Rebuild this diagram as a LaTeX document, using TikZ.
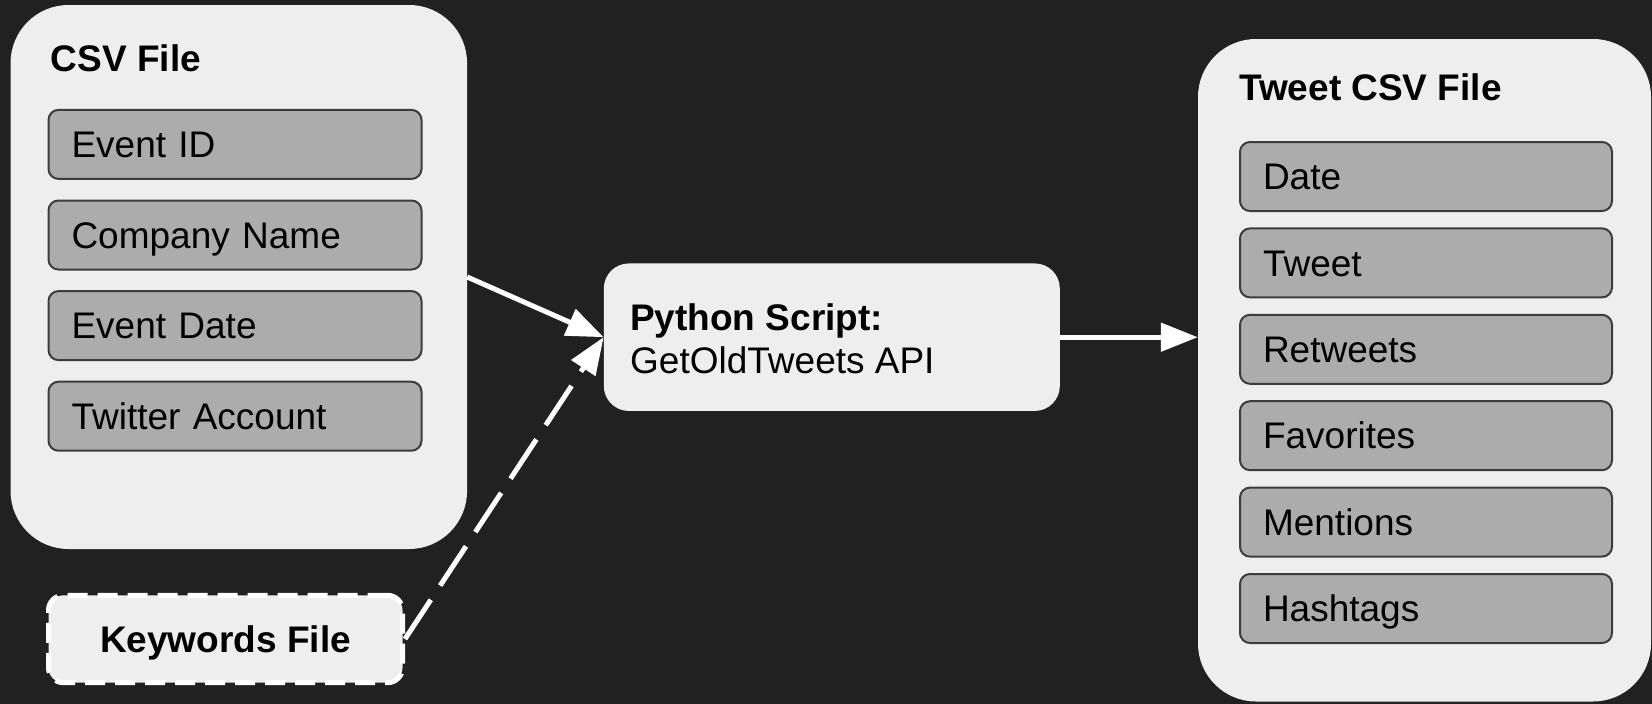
\documentclass[tikz,border=0pt]{standalone}
\usepackage{fontspec}
\setmainfont{Liberation Sans}
\usetikzlibrary{arrows.meta}
\definecolor{bgc}{HTML}{212121}
\definecolor{boxc}{HTML}{EEEEEE}
\definecolor{fieldc}{HTML}{ACACAC}
\definecolor{fieldline}{HTML}{3C3C3C}
\begin{document}
\begin{tikzpicture}[x=1pt,y=-1pt,
  every node/.style={font=\fontsize{37}{44}\selectfont, text=black},
  bigbox/.style={fill=boxc, draw=none, rounded corners=58pt, inner sep=0pt},
  fieldbox/.style={fill=fieldc, draw=fieldline, line width=2pt, rounded corners=10pt,
    minimum height=69pt, inner xsep=23pt, inner ysep=0pt, align=left,
    text height=26.5pt, text depth=0pt},
  csvfield/.style={fieldbox, minimum width=373pt, text width=327pt},
  twfield/.style={fieldbox, minimum width=372pt, text width=326pt},
  boxtitle/.style={anchor=base west, inner sep=0pt, font=\fontsize{37}{44}\selectfont\bfseries},
  plaintext/.style={anchor=base west, inner sep=0pt},
  flow/.style={draw=white, line width=5pt, -{Triangle[length=37pt,width=28pt]}},
]
\fill[bgc] (0,0) rectangle (1652,704);
\useasboundingbox (0,0) rectangle (1652,704);

% CSV file
\node[bigbox, minimum width=456.5pt, minimum height=544pt] (csv) at (238.8,277) {};
\node[boxtitle] (csvt) at (50.6,71.6) {CSV File};
\node[csvfield] (c1) at (235,144.4) {Event ID};
\node[csvfield] (c2) at (235,235) {Company Name};
\node[csvfield] (c3) at (235,325.6) {Event Date};
\node[csvfield] (c4) at (235,416.2) {Twitter Account};

% Keywords file
\node[fill=boxc, draw=white, line width=5pt, dash pattern=on 20pt off 10pt,
  rounded corners=15pt, minimum width=354pt, minimum height=87.4pt,
  text height=26.5pt, text depth=0pt,
  font=\fontsize{37}{44}\selectfont\bfseries] (kw) at (225.5,639) {Keywords File};

% Python script
\node[fill=boxc, rounded corners=25pt, inner sep=0pt, minimum width=456pt, minimum height=147.5pt] (py) at (831.8,337.2) {};
\node[boxtitle] (pyt1) at (630,330) {Python Script:};
\node[plaintext] (pyt2) at (630,373) {GetOldTweets API};

% Tweet CSV file
\node[bigbox, minimum width=453pt, minimum height=662.5pt] (tw) at (1424.5,370.25) {};
\node[boxtitle] (twt) at (1239,100) {Tweet CSV File};
\node[twfield] (t1) at (1426,176.5) {Date};
\node[twfield] (t2) at (1426,262.9) {Tweet};
\node[twfield] (t3) at (1426,349.3) {Retweets};
\node[twfield] (t4) at (1426,435.7) {Favorites};
\node[twfield] (t5) at (1426,522.1) {Mentions};
\node[twfield] (t6) at (1426,608.5) {Hashtags};

% connectors
\draw[flow] (csv.east) -- (py.west);
\draw[flow, dash pattern=on 47pt off 17pt] (kw.east) -- (py.west);
\draw[flow] (py.east) -- (py.east -| tw.west);
\end{tikzpicture}
\end{document}
